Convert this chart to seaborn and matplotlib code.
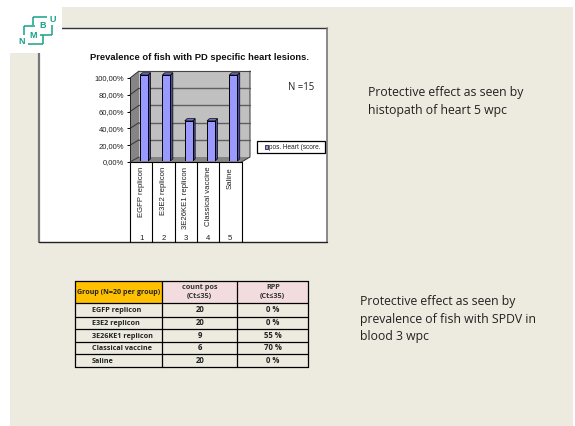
import matplotlib
matplotlib.use("Agg")
import matplotlib.pyplot as plt
from matplotlib.patches import Rectangle, Polygon
import seaborn as sns
import pandas as pd

# ---- data ----
groups = ["EGFP replicon", "E3E2 replicon", "3E26KE1 replicon", "Classical vaccine", "Saline"]
group_numbers = ["1", "2", "3", "4", "5"]
prevalence = [1.0, 1.0, 0.4667, 0.4667, 1.0]
y_ticks = [0.0, 0.2, 0.4, 0.6, 0.8, 1.0]
y_tick_labels = ["0,00%", "20,00%", "40,00%", "60,00%", "80,00%", "100,00%"]
chart_title = "Prevalence of fish with PD specific heart lesions."
legend_label = "pos. Heart (score."
table_header = ["Group (N=20 per group)", "count pos\n(Ct≤35)", "RPP\n(Ct≤35)"]
table_groups = ["EGFP replicon", "E3E2 replicon", "3E26KE1 replicon", "Classical vaccine", "Saline"]
table_counts = ["20", "20", "9", "6", "20"]
table_rpp = ["0 %", "0 %", "55 %", "70 %", "0 %"]
note_top = "Protective effect as seen by\nhistopath of heart 5 wpc"
note_bottom = "Protective effect as seen by\nprevalence of fish with SPDV in\nblood 3 wpc"

W, H = 575, 426
PAGE = "#EDEADF"
sns.set_theme(style="white")
plt.rcParams["font.family"] = ["Liberation Sans", "DejaVu Sans"]
NOTE_FONT = ["Open Sans", "DejaVu Sans"]
TABLE_FONT = ["Open Sans", "DejaVu Sans"]

fig = plt.figure(figsize=(W / 100, H / 100), dpi=100, facecolor="white")


def px_axes(x0, y0, x1, y1, **kw):
    return fig.add_axes([x0 / W, 1 - y1 / H, (x1 - x0) / W, (y1 - y0) / H], **kw)


bg = fig.add_axes([0, 0, 1, 1])
bg.set_xlim(0, W)
bg.set_ylim(H, 0)
bg.axis("off")

# slide background
bg.add_patch(Rectangle((10, 7), 563, 419, fc=PAGE, ec="none", zorder=0))

# chart frame
bg.add_patch(Rectangle((39, 28), 288, 214, fc="white", ec="none", zorder=1))
bg.plot([39, 39], [28, 242], color="#777777", lw=1.6, zorder=2)
bg.plot([39, 327], [28, 28], color="#333333", lw=1.0, zorder=2)
bg.plot([327, 327], [28, 242], color="#777777", lw=1.2, zorder=2)
bg.plot([39, 327], [242, 242], color="#222222", lw=1.0, zorder=2)
bg.add_patch(Rectangle((0, 0), 62, 53, fc="white", ec="none", zorder=3))

# logo
TEAL = "#17A08A"
logo_lines = [
    [(33, 17), (47, 17)], [(33, 17), (33, 25)], [(23.5, 26), (35, 26)], [(23.5, 26), (23.5, 35)],
    [(51.5, 25), (51.5, 35)], [(40, 35), (51.5, 35)], [(42.7, 35), (42.7, 43.5)], [(28, 43.5), (42.7, 43.5)],
]
for seg in logo_lines:
    bg.plot(*zip(*seg), color=TEAL, lw=1.1, zorder=4, solid_capstyle="butt")
for s, x, y in [("N", 22, 41), ("M", 33, 35), ("B", 43, 26), ("U", 53, 19)]:
    bg.text(x, y, s, color=TEAL, fontsize=6.5, fontweight="bold", ha="center", va="center", zorder=5)

# 3D walls, drawn behind the bars
FX0, FX1, FY0, FY1 = 130, 241.5, 78, 162     # front plane of the plot
BX0, BX1, BY0, BY1 = 139, 250, 71, 157       # back wall
GREY_WALL, GREY_SIDE = "#C0C0C0", "#858585"
bg.add_patch(Polygon([(BX0, BY0), (BX1, BY0), (BX1, BY1), (BX0, BY1)], fc=GREY_WALL, ec="none", zorder=2))
bg.add_patch(Polygon([(FX0, FY0), (BX0, BY0), (BX0, BY1), (FX0, FY1)], fc=GREY_SIDE, ec="none", zorder=2))
bg.add_patch(Polygon([(FX0, FY1), (BX0, BY1), (BX1, BY1), (FX1, FY1)], fc=GREY_SIDE, ec="none", zorder=2))
bg.plot([BX0, BX1], [BY0, BY0], color="#444444", lw=0.8, zorder=2.5)
bg.plot([BX1, BX1, FX1], [BY0, BY1, FY1], color="#333333", lw=0.7, zorder=2.5)
for t in y_ticks:
    fy = FY1 - t * (FY1 - FY0)
    by = BY1 - t * (BY1 - BY0)
    if 0 < t < 1:
        bg.plot([BX0, BX1], [by, by], color="#5f5f5f", lw=1.0, zorder=2.5)
    bg.plot([FX0, BX0], [fy, by], color="#333333", lw=0.7, zorder=2.5)

# front-plane axis: y scale, category tree labels
ax = px_axes(FX0, FY0, FX1, FY1, facecolor="none", zorder=5)
ax.set_xlim(-0.5, len(groups) - 0.5)
ax.set_ylim(0, 1)
ax.set_yticks(y_ticks)
ax.set_yticklabels(y_tick_labels, fontsize=5.5, color="#222222")
ax.set_xticks(range(len(groups)))
ax.set_xticklabels(groups, rotation=90, fontsize=5.6, color="#222222", ha="center", va="top")
ax.tick_params(axis="y", length=2.5, width=0.7, color="black", pad=1.5, left=True)
ax.tick_params(axis="x", length=0, pad=3.5, bottom=True)
for s in ["top", "right", "bottom"]:
    ax.spines[s].set_visible(False)
ax.spines["left"].set_color("#222222")
ax.spines["left"].set_linewidth(0.7)
ax.grid(False)

# seaborn bars, with the depth faces derived from each bar
bar_ax = px_axes(FX0 + 3, 75, FX1 + 3, 161, facecolor="none", zorder=6)
df = pd.DataFrame({"group": groups, "prevalence": prevalence})
sns.barplot(data=df, x="group", y="prevalence", ax=bar_ax, color="#9999FF", saturation=1,
            width=0.36, edgecolor="black", linewidth=0.7, zorder=3)
bar_ax.set_xlim(-0.5, len(groups) - 0.5)
bar_ax.set_ylim(0, 1)
bar_ax.axis("off")
ppx = (FX1 - FX0) / len(groups)
ddx = 2.4 / ppx
ddy = 2.2 / 86
for p in bar_ax.patches:
    x0, w, h = p.get_x(), p.get_width(), p.get_height()
    bar_ax.add_patch(Polygon([(x0 + w, 0), (x0 + w + ddx, ddy), (x0 + w + ddx, h + ddy), (x0 + w, h)],
                             fc="#4D4D99", ec="black", lw=0.5, zorder=2, clip_on=False))
    bar_ax.add_patch(Polygon([(x0, h), (x0 + ddx, h + ddy), (x0 + w + ddx, h + ddy), (x0 + w, h)],
                             fc="#7272CC", ec="black", lw=0.5, zorder=2, clip_on=False))

# multilevel category separators and numbers
for i in range(len(groups) + 1):
    x = FX0 + i * (FX1 - FX0) / len(groups)
    bg.plot([x, x], [FY1, 242], color="black", lw=0.8, zorder=3)
for i, n in enumerate(group_numbers):
    x = FX0 + (i + 0.5) * (FX1 - FX0) / len(groups)
    bg.text(x, 238.5, n, fontsize=5.6, ha="center", va="center", color="#222222", zorder=4)
bg.plot([FX0, FX1], [FY1, FY1], color="black", lw=0.8, zorder=3)

bg.text(199.5, 57, chart_title, fontsize=6.75, fontweight="bold", ha="center", va="center", color="#111111", zorder=4)
bg.text(301.5, 87, "N =15", fontsize=6.9, ha="center", va="center", color="#222222", family=NOTE_FONT, zorder=4)

# legend
bg.add_patch(Rectangle((257, 141), 67.5, 12.3, fc="white", ec="black", lw=0.9, zorder=4))
bg.add_patch(Rectangle((264.5, 145.3), 3.4, 3.6, fc="#9999FF", ec="black", lw=0.5, zorder=5))
bg.text(269, 147.5, legend_label, fontsize=4.7, ha="left", va="center", color="#222222", zorder=5)

# notes
bg.text(368.5, 101.5, note_top, fontsize=8.8, family=NOTE_FONT, color="#222222", ha="left", va="center",
        linespacing=1.42, zorder=4)
bg.text(360, 319, note_bottom, fontsize=8.8, family=NOTE_FONT, color="#222222", ha="left", va="center",
        linespacing=1.42, zorder=4)

# table
col_x = [74.7, 162.3, 237.3, 308.3]
row_y = [280.7, 303.3, 316.7, 329.3, 341.7, 354.3, 367]
bg.add_patch(Rectangle((col_x[0], row_y[0]), col_x[1] - col_x[0], row_y[1] - row_y[0], fc="#FFC000", ec="none", zorder=2))
bg.add_patch(Rectangle((col_x[1], row_y[0]), col_x[3] - col_x[1], row_y[1] - row_y[0], fc="#F3DCDD", ec="none", zorder=2))
for x in col_x:
    bg.plot([x, x], [row_y[0], row_y[-1]], color="black", lw=0.9, zorder=3)
for y in row_y:
    bg.plot([col_x[0], col_x[-1]], [y, y], color="black", lw=0.9, zorder=3)
hy = (row_y[0] + row_y[1]) / 2
bg.text((col_x[0] + col_x[1]) / 2, hy, table_header[0], fontsize=5.15, fontweight="bold", family=TABLE_FONT,
        ha="center", va="center", color="#222222", zorder=4)
for j in (1, 2):
    bg.text((col_x[j] + col_x[j + 1]) / 2, hy, table_header[j], fontsize=5.2, fontweight="bold", family=TABLE_FONT,
            ha="center", va="center", color="#333333", linespacing=1.25, zorder=4)
for i in range(len(table_groups)):
    yy = (row_y[i + 1] + row_y[i + 2]) / 2 + 0.5
    bg.text(92, yy, table_groups[i], fontsize=5.2, fontweight="bold", family=TABLE_FONT, ha="left", va="center",
            color="#222222", zorder=4)
    bg.text((col_x[1] + col_x[2]) / 2, yy - 1, table_counts[i], fontsize=5.6, fontweight="bold", family=TABLE_FONT,
            ha="center", va="center", color="#222222", zorder=4)
    bg.text((col_x[2] + col_x[3]) / 2, yy - 1, table_rpp[i], fontsize=5.6, fontweight="bold", family=TABLE_FONT,
            ha="center", va="center", color="#222222", zorder=4)

fig.savefig("out.png", dpi=100, facecolor="white")
